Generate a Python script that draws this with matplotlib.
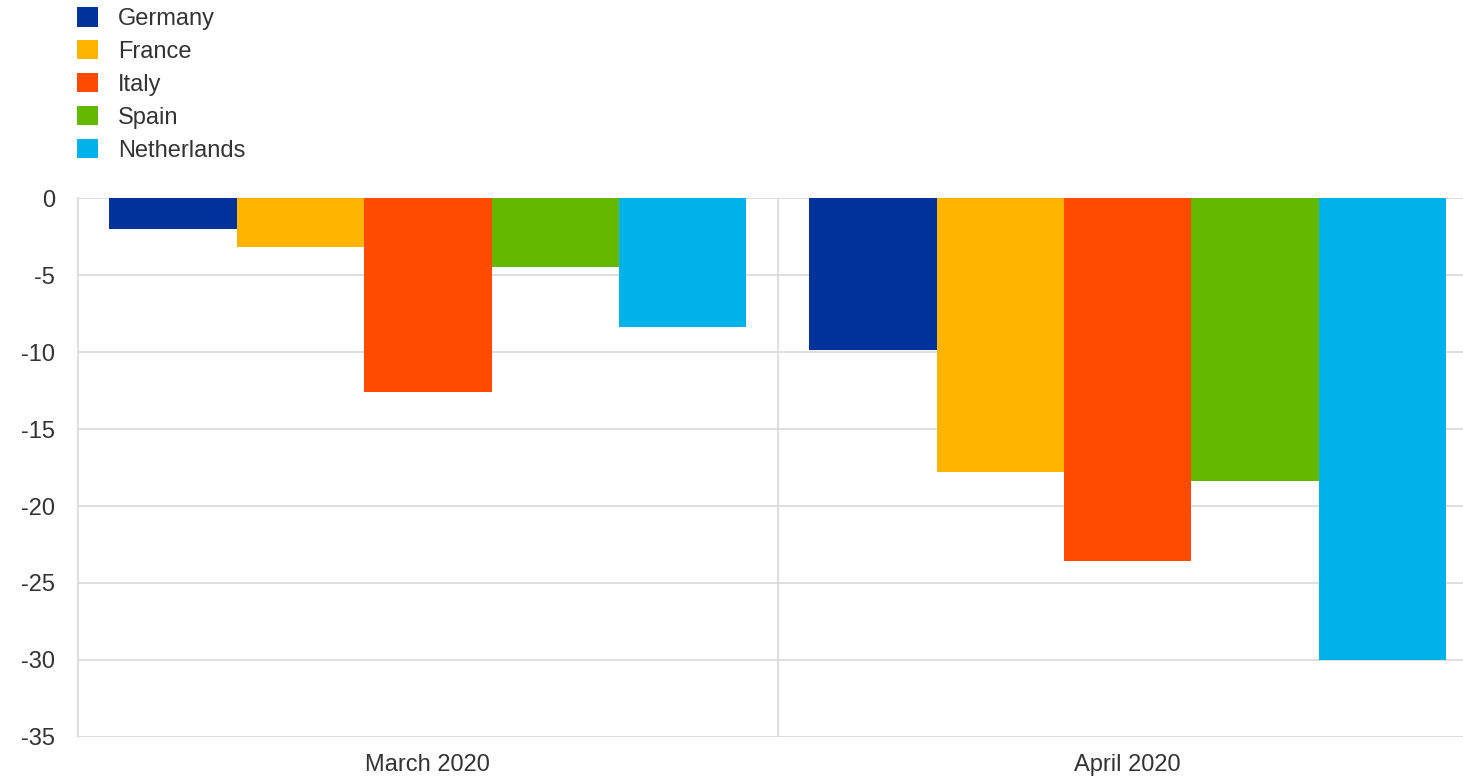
import matplotlib.pyplot as plt
from matplotlib.patches import Patch
import numpy as np

plt.rcParams['font.family'] = ['Liberation Sans', 'DejaVu Sans']
plt.rcParams['axes.unicode_minus'] = False

months = ['March 2020', 'April 2020']
countries = ['Germany', 'France', 'Italy', 'Spain', 'Netherlands']
germany = [-2.0, -9.9]
france = [-3.2, -17.8]
italy = [-12.6, -23.6]
spain = [-4.5, -18.4]
netherlands = [-8.4, -30.0]
colors = ['#003299', '#ffb400', '#ff4b00', '#65b800', '#00b1ea']

series = [germany, france, italy, spain, netherlands]

fig = plt.figure(figsize=(14.63, 7.78), dpi=100)
ax = fig.add_axes([0.0533, 0.0527, 0.9467, 0.6928])

x = np.arange(len(months))
width = 0.182
for i, (vals, col) in enumerate(zip(series, colors)):
    ax.bar(x + (i - 2) * width, vals, width, color=col, zorder=3)

ax.set_ylim(-35, 0)
ax.set_yticks(np.arange(-35, 1, 5))
ax.set_xlim(-0.5, 1.479)
ax.set_xticks(x)
ax.set_xticklabels(months)

# horizontal grid plus a separator between the two months
ax.grid(axis='y', color='#d9d9d9', linewidth=1.2, zorder=0)
ax.axvline(0.5, color='#d9d9d9', linewidth=1.2, zorder=0)

for s in ['top', 'right', 'bottom']:
    ax.spines[s].set_visible(False)
ax.spines['left'].set_color('#d9d9d9')
ax.spines['left'].set_linewidth(1.2)
ax.tick_params(axis='both', length=0, labelsize=17, labelcolor='#333333')
ax.tick_params(axis='y', pad=16.5)
ax.tick_params(axis='x', pad=12)

handles = [Patch(facecolor=c, label=n) for c, n in zip(colors, countries)]
fig.legend(handles=handles, loc='upper left', bbox_to_anchor=(0.038, 1.018),
           frameon=False, fontsize=17, handlelength=0.88, handleheight=0.88,
           handletextpad=0.85, labelspacing=0.43, labelcolor='#333333')

fig.savefig('out.png', dpi=100)
